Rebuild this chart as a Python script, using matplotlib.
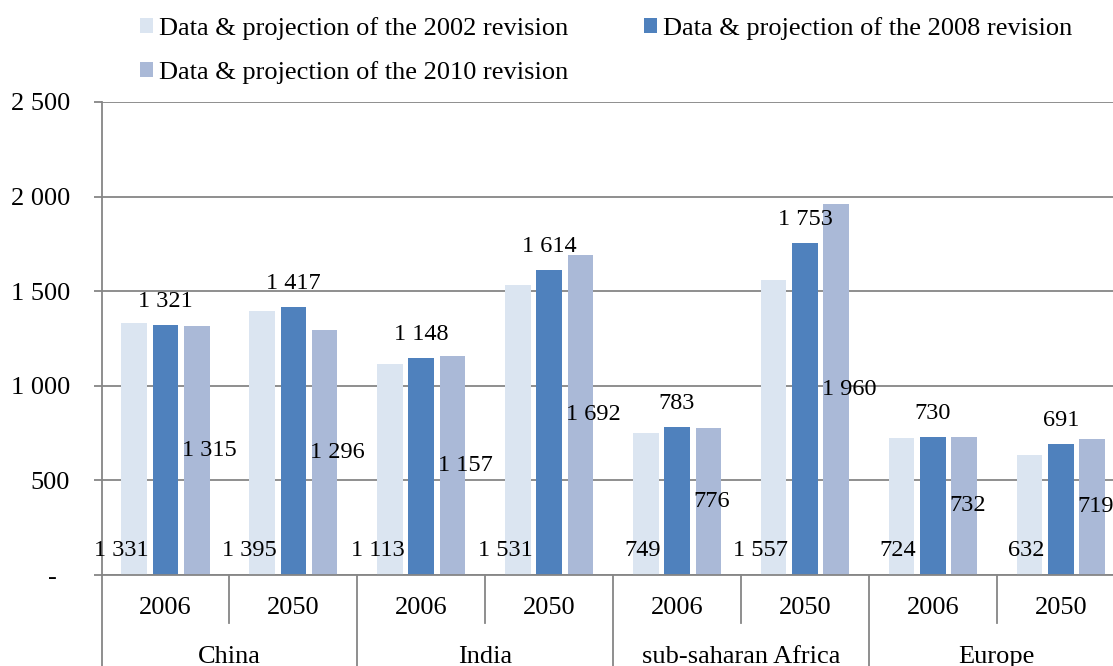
import matplotlib.pyplot as plt
import matplotlib.transforms as mtransforms
import numpy as np

plt.rcParams['font.family'] = ['Liberation Serif', 'DejaVu Serif']

regions = ["China", "India", "sub-saharan Africa", "Europe"]
years = ["2006", "2050"]
rev_2002 = [1331, 1395, 1113, 1531, 749, 1557, 724, 632]
rev_2008 = [1321, 1417, 1148, 1614, 783, 1753, 730, 691]
rev_2010 = [1315, 1296, 1157, 1692, 776, 1960, 732, 719]
y_ticks = [0, 500, 1000, 1500, 2000, 2500]
y_labels = ["-  ", "500", "1 000", "1 500", "2 000", "2 500"]

C_2002 = "#DBE5F1"
C_2008 = "#4F81BD"
C_2010 = "#AAB9D7"
GREY = "#868686"
FS = 19     # axis text & legend
FS_LAB = 17.5  # data labels


def fmt(v):
    return "{:,}".format(v).replace(",", " ")


W, H = 1113, 666
fig = plt.figure(figsize=(W / 100, H / 100), dpi=100)
ax = fig.add_axes([101.5 / W, 1 - 575 / H, 8 * 127.9 / W, (575 - 102) / H])

n = len(rev_2002)
x = np.arange(n) + 0.5
bw = 0.2
off = 0.245

b1 = ax.bar(x - off, rev_2002, bw, color=C_2002, label="Data & projection of the 2002 revision")
b2 = ax.bar(x, rev_2008, bw, color=C_2008, label="Data & projection of the 2008 revision")
b3 = ax.bar(x + off, rev_2010, bw, color=C_2010, label="Data & projection of the 2010 revision")

# data labels, placed like the excel original
for i in range(n):
    ax.text(x[i] - off + bw / 2 + 0.015, 100, fmt(rev_2002[i]), ha="right", va="baseline",
            fontsize=FS_LAB, clip_on=False)
    ax.annotate(fmt(rev_2008[i]), (x[i], rev_2008[i]), xytext=(0, 13), textcoords="offset points",
                ha="center", va="baseline", fontsize=FS_LAB)
    ax.text(x[i] + off - bw / 2 - 0.015, rev_2010[i] / 2, fmt(rev_2010[i]), ha="left", va="center",
            fontsize=FS_LAB, clip_on=False)

ax.set_xlim(0, n)
ax.set_ylim(0, 2500)
ax.set_yticks(y_ticks)
ax.set_yticklabels(y_labels)
ax.yaxis.grid(True, color=GREY, lw=1.3)
ax.set_axisbelow(True)
ax.tick_params(axis="y", direction="out", length=5.8, width=1.3, color=GREY, pad=17, labelsize=FS)
ax.set_xticks([])
for s in ["top", "right"]:
    ax.spines[s].set_visible(False)
for s in ["left", "bottom"]:
    ax.spines[s].set_color(GREY)
    ax.spines[s].set_linewidth(1.3)

# two level category axis
trans = mtransforms.blended_transform_factory(ax.transData, ax.transAxes)
px = 1 / (575 - 102)
for i in range(n):
    ax.text(x[i], -33 * px, years[i % 2], ha="center", va="center", fontsize=FS, transform=trans)
for j, r in enumerate(regions):
    ax.text(2 * j + 1, -82 * px, r, ha="center", va="center", fontsize=FS, transform=trans)
for k in range(n + 1):
    bottom = -48 * px if k % 2 else -0.3
    ax.plot([k, k], [0, bottom], color=GREY, lw=1.3, transform=trans, clip_on=False)

fig.legend(handles=[b1, b3, b2], loc="upper left", bbox_to_anchor=(140 / W, 1 - 17 / H),
           ncol=2, frameon=False, fontsize=FS, handlelength=0.5, handleheight=0.5,
           handletextpad=0.23, columnspacing=2.85, labelspacing=0.8, borderpad=0, borderaxespad=0)

fig.savefig("out.png", dpi=100)
